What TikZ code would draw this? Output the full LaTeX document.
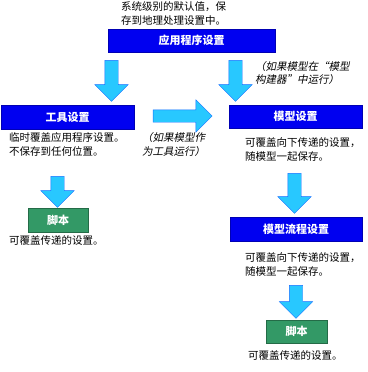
\documentclass[tikz,border=0pt]{standalone}
\usepackage{fontspec}
\setmainfont{Noto Sans CJK SC}
\newfontfamily\slantfont{Noto Sans CJK SC}[FakeSlant=0.2]
\usepackage{xcolor}
\usepackage{tikz}
\definecolor{settingcolor}{RGB}{0, 0, 240}
\definecolor{scriptcolor}{RGB}{51, 153, 102}
\definecolor{arrowcolor}{RGB}{40, 200, 255}
\usetikzlibrary{shapes.arrows, positioning}

\begin{document}
\begin{tikzpicture}[
    x=1pt, y=-1pt,
    setbox/.style={rectangle, draw=settingcolor!75!black, fill=settingcolor, text=white, font=\fontsize{11}{13}\selectfont\bfseries, minimum height=23pt, inner sep=0pt},
    scriptbox/.style={setbox, draw=scriptcolor!70!black, fill=scriptcolor},
    flowarrow/.style={single arrow, draw=arrowcolor!55!blue, fill=arrowcolor, minimum width=33pt, single arrow head extend=10pt, single arrow tip angle=90, inner xsep=0pt, inner ysep=6.5pt},
    note/.style={anchor=west, align=left, inner sep=0pt, font=\fontsize{10.5}{13.5}\selectfont},
    slantnote/.style={note, font=\fontsize{10.5}{13.5}\selectfont\slantfont}
]
    \useasboundingbox (0,0) rectangle (367,372);

    % Application settings
    \node[note] (sysnote) at (121, 13.5) {系统级别的默认值，保\\存到地理处理设置中。};
    \node[setbox, minimum width=167pt] (appset) at (191.5, 40.5) {应用程序设置};

    \node[flowarrow, rotate=-90, minimum height=41pt] (apptool) at (111.5, 77.5) {};
    \node[flowarrow, rotate=-90, minimum height=41pt] (appmodel) at (235.5, 77.5) {};
    \node[slantnote] (buildernote) at (255, 73) {（如果模型在“模型\\构建器”中运行）};

    % Tool settings
    \node[setbox, minimum width=133pt, minimum height=24pt] (toolset) at (67.5, 117) {工具设置};
    \node[note] (toolnote) at (9, 144.5) {临时覆盖应用程序设置。\\不保存到任何位置。};

    \node[flowarrow, minimum height=59pt, minimum width=32pt, inner ysep=6pt] (toolmodel) at (179.5, 116) {};
    \node[slantnote] (toolrunnote) at (142, 144.5) {（如果模型作\\为工具运行）};

    \node[flowarrow, rotate=-90, minimum height=31pt] (toolscript) at (57.5, 188.5) {};
    \node[scriptbox, minimum width=60pt, minimum height=24pt] (script1) at (58, 220) {脚本};
    \node[note] (script1note) at (9, 241) {可覆盖传递的设置。};

    % Model settings
    \node[setbox, minimum width=133pt] (modelset) at (295.5, 116.5) {模型设置};
    \node[note] (modelnote) at (245, 149.5) {可覆盖向下传递的设置，\\随模型一起保存。};

    \node[flowarrow, rotate=-90, minimum height=40pt] (modelproc) at (294.5, 190) {};
    \node[setbox, minimum width=132pt, minimum height=24pt] (procset) at (296, 229) {模型流程设置};
    \node[note] (procnote) at (245, 264.5) {可覆盖向下传递的设置，\\随模型一起保存。};

    \node[flowarrow, rotate=-90, minimum height=33pt] (procscript) at (296, 298.5) {};
    \node[scriptbox, minimum width=61pt] (script2) at (296.5, 331.5) {脚本};
    \node[note] (script2note) at (248, 355) {可覆盖传递的设置。};
\end{tikzpicture}
\end{document}
